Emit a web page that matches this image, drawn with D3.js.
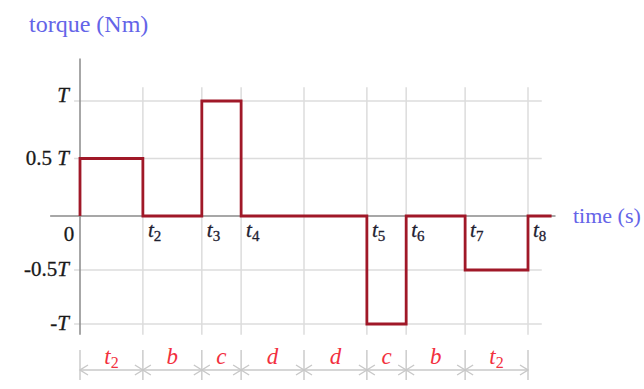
<!DOCTYPE html>
<html>
<head>
<meta charset="utf-8">
<script src="https://cdn.jsdelivr.net/npm/d3@7"></script>
<style>
  html, body { margin: 0; padding: 0; background: #fff; }
  svg { display: block; font-family: "Liberation Serif", "Times New Roman", serif; }
</style>
</head>
<body>
<svg id="chart" width="644" height="389"></svg>
<script>
// Interval names and their durations (arbitrary time units)
const segNames = ["t2", "b", "c", "d", "d", "c", "b", "t2"];
const segDurations = [1.6, 1.5, 1.0, 1.6, 1.6, 1.0, 1.5, 1.6];
// Torque level held during each interval, in units of T
const torqueLevels = [0.5, 0, 1, 0, 0, -1, 0, -0.5];
// Labels of the interval boundaries (first boundary is the origin)
const boundaryLabels = ["", "2", "3", "4", "", "5", "6", "7", "8"];
// Y ticks (in units of T) with their prefix text
const yTickValues = [1, 0.5, -0.5, -1];
const yTickPrefixes = ["", "0.5 ", "-0.5", "-"];

const svg = d3.select("#chart");

// cumulative boundaries
const bounds = [0];
segDurations.forEach(d => bounds.push(+(bounds[bounds.length - 1] + d).toFixed(3)));
const tEnd = bounds[bounds.length - 1];

const x = d3.scaleLinear().domain([0, tEnd]).range([80, 528]);
const y = d3.scaleLinear().domain([-1, 0, 1]).range([324, 216, 101]);

const gridColor = "#dcdcdc";
const axisColor = "#8a8a8a";

// grid: horizontal
svg.append("g").selectAll("line").data(yTickValues).join("line")
  .attr("x1", x(-0.15)).attr("x2", x(tEnd + 0.35))
  .attr("y1", d => y(d)).attr("y2", d => y(d))
  .attr("stroke", gridColor).attr("stroke-width", 1.5);

// grid: vertical
svg.append("g").selectAll("line").data(bounds.slice(1)).join("line")
  .attr("x1", d => x(d)).attr("x2", d => x(d))
  .attr("y1", y(1.12)).attr("y2", y(-1.1))
  .attr("stroke", gridColor).attr("stroke-width", 1.5);

// axes
svg.append("line")
  .attr("x1", x(0)).attr("x2", x(0))
  .attr("y1", y(1.37)).attr("y2", y(-1.1))
  .attr("stroke", axisColor).attr("stroke-width", 1.5);
svg.append("line")
  .attr("x1", x(-0.76)).attr("x2", x(12.1))
  .attr("y1", y(0)).attr("y2", y(0))
  .attr("stroke", axisColor).attr("stroke-width", 1.5);

// torque profile as a step line
const pts = [[0, 0]];
segDurations.forEach((d, i) => {
  pts.push([bounds[i], torqueLevels[i]]);
  pts.push([bounds[i + 1], torqueLevels[i]]);
});
pts.push([tEnd, 0]);
pts.push([12.0, 0]);
svg.append("path")
  .attr("d", d3.line().x(d => x(d[0])).y(d => y(d[1]))(pts))
  .attr("fill", "none")
  .attr("stroke", "#a01828")
  .attr("stroke-width", 2.8)
  .attr("stroke-linejoin", "miter");

// y tick labels
const yLab = svg.append("g").selectAll("text").data(yTickValues).join("text")
  .attr("x", 69).attr("y", d => y(d) + (d === 1 ? 1 : 6))
  .attr("text-anchor", "end")
  .attr("font-size", 21)
  .attr("fill", "#1a1a1a")
  .attr("stroke", "#1a1a1a").attr("stroke-width", 0.3);
yLab.append("tspan").text((d, i) => yTickPrefixes[i]);
yLab.append("tspan").attr("font-style", "italic").text("T");

svg.append("text").attr("x", 69).attr("y", 241)
  .attr("text-anchor", "middle").attr("font-size", 21).attr("fill", "#1a1a1a")
  .attr("stroke", "#1a1a1a").attr("stroke-width", 0.3).text("0");

// boundary labels t2..t8
const bData = bounds.map((b, i) => ({ b, s: boundaryLabels[i] })).filter(d => d.s !== "");
const bLab = svg.append("g").selectAll("text").data(bData).join("text")
  .attr("x", d => x(d.b) + 5).attr("y", 237)
  .attr("font-size", 21).attr("fill", "#1e2030")
  .attr("stroke", "#1e2030").attr("stroke-width", 0.3);
bLab.append("tspan").attr("font-style", "italic").text("t");
bLab.append("tspan").attr("font-size", 15).attr("dy", 4).text(d => d.s);

// axis titles
svg.append("text").attr("x", 29).attr("y", 32)
  .attr("font-size", 24).attr("fill", "#6464e8").text("torque (Nm)");
svg.append("text").attr("x", 573).attr("y", 223)
  .attr("font-size", 22).attr("fill", "#6464e8").text("time (s)");

// dimension row under the plot
const dimY = 370;
const dim = svg.append("g").attr("stroke", "#c8c8c8").attr("stroke-width", 1.4);
dim.append("line").attr("x1", x(0)).attr("x2", x(tEnd)).attr("y1", dimY).attr("y2", dimY);
dim.selectAll("line.tk").data(bounds).join("line").attr("class", "tk")
  .attr("x1", d => x(d)).attr("x2", d => x(d))
  .attr("y1", dimY - 20).attr("y2", dimY + 10);
// arrowheads pointing outward onto each boundary
const ah = 8, aw = 5;
bounds.forEach((b, i) => {
  const px = x(b);
  if (i < bounds.length - 1) {
    dim.append("path").attr("fill", "none")
      .attr("d", `M${px + ah},${dimY - aw}L${px},${dimY}L${px + ah},${dimY + aw}`);
  }
  if (i > 0) {
    dim.append("path").attr("fill", "none")
      .attr("d", `M${px - ah},${dimY - aw}L${px},${dimY}L${px - ah},${dimY + aw}`);
  }
});

// interval names
const segLab = svg.append("g").selectAll("text").data(segNames).join("text")
  .attr("x", (d, i) => (x(bounds[i]) + x(bounds[i + 1])) / 2)
  .attr("y", 364)
  .attr("text-anchor", "middle")
  .attr("font-size", 23)
  .attr("font-style", "italic")
  .attr("fill", "#f2303e");
segLab.append("tspan").text(d => d[0]);
segLab.append("tspan").attr("font-size", 16).attr("dy", 4).attr("font-style", "normal")
  .text(d => d.slice(1));
</script>
</body>
</html>
